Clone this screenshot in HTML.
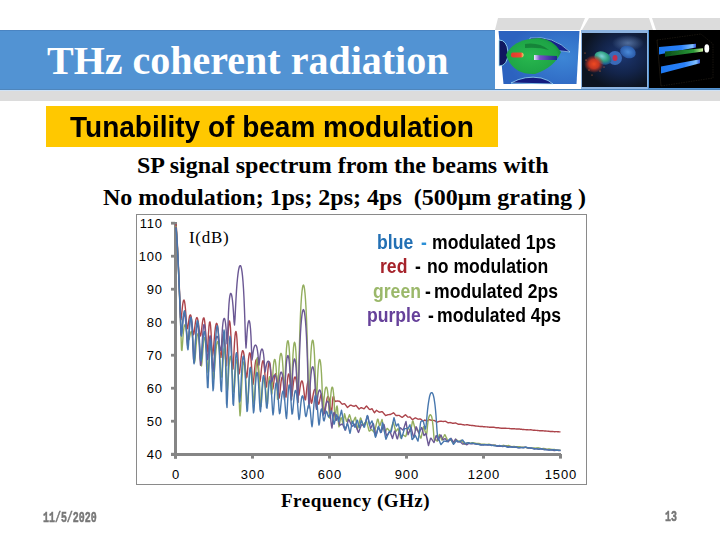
<!DOCTYPE html>
<html><head><meta charset="utf-8">
<style>
html,body{margin:0;padding:0;width:720px;height:540px;overflow:hidden;background:#fff;}
body{position:relative;font-family:"Liberation Sans",sans-serif;}
.a{position:absolute;white-space:pre;line-height:1;}
.lab{font-size:13px;color:#000;letter-spacing:0.8px;}
.leg{font-size:17.6px;font-weight:bold;color:#000;transform:scaleY(1.12);transform-origin:0 0;}
.serif{font-family:"Liberation Serif",serif;}
</style></head><body>
<!-- tabs -->
<svg class="a" style="left:0;top:0" width="720" height="110">
  <polygon points="498,18 585,18 580,30 495,30" fill="#dcdcdc"/>
  <polygon points="589,18 649,18 653,30 582,30" fill="#dcdcdc"/>
  <polygon points="652,18 720,18 720,30 656,30" fill="#dcdcdc"/>
</svg>
<!-- title bar -->
<div class="a" style="left:0;top:30px;width:720px;height:59px;background:#5293d3;border-top:1px solid #4a84c2;box-sizing:border-box"></div>
<div class="a" style="left:0;top:88.5px;width:720px;height:1.5px;background:#4f86bc"></div>
<div class="a" style="left:0;top:90px;width:720px;height:1px;background:#cfe2f6"></div>
<div class="a" style="left:0;top:91px;width:720px;height:10px;background:#dcdcdc"></div>
<div class="a serif" style="left:47px;top:41px;font-size:40px;font-weight:bold;color:#fff;">THz coherent radiation</div>

<!-- images -->
<div class="a" style="left:495px;top:30px;width:86px;height:59px;background:#fff"></div>
<svg class="a" style="left:495px;top:30px" width="86" height="59">
<defs>
<radialGradient id="g1bg" cx="0.8" cy="0.5" r="0.7"><stop offset="0" stop-color="#3d86d6"/><stop offset="1" stop-color="#2c62bf"/></radialGradient>
<radialGradient id="g1gr" cx="0.45" cy="0.5" r="0.6"><stop offset="0" stop-color="#28b84e"/><stop offset="0.8" stop-color="#1ea446"/><stop offset="1" stop-color="#14833a"/></radialGradient>
<linearGradient id="g1pu" x1="0" x2="1"><stop offset="0" stop-color="#e8f0ff"/><stop offset="0.25" stop-color="#7a50c8"/><stop offset="1" stop-color="#1a2a8a"/></linearGradient>
<linearGradient id="g1rd" x1="0" x2="1"><stop offset="0" stop-color="#e23a2c"/><stop offset="0.8" stop-color="#f04a30"/><stop offset="1" stop-color="#f0e070"/></linearGradient>
</defs>
<polygon points="3.5,1 84.5,1 81.5,54 8.5,54" fill="url(#g1bg)"/>
<path d="M4,10 Q12,10 13,22 Q13,36 4,36 Z" fill="#101860" stroke="#9fe8ff" stroke-width="0.8"/>
<path d="M35,8 Q58,5 75,22 Q62,21 52,18 Q44,13 35,11 Z" fill="#16208a" stroke="#b0f0ff" stroke-width="0.6"/>
<path d="M11,25 Q18,9 44,8 Q58,9 66,22 Q60,37 40,44 Q18,45 11,25 Z" fill="url(#g1gr)"/>
<path d="M30,14 Q44,12 54,20 Q44,17 30,18 Z" fill="#137a36" opacity="0.8"/>
<rect x="16" y="22.5" width="12.5" height="5" rx="2" fill="url(#g1rd)"/>
<path d="M39,25 L62,26 L62,30 L39,30 Z" fill="url(#g1pu)"/>
<path d="M16,53 Q30,45 46,48 Q54,50 58,54 Z" fill="#141c80" stroke="#a8ecff" stroke-width="0.7"/>
</svg>
<div class="a" style="left:581px;top:30px;width:67px;height:59px;background:#8db4e0"></div>
<svg class="a" style="left:582px;top:33px" width="65" height="54">
<defs>
<radialGradient id="g2bg" cx="0.62" cy="0.42" r="0.62"><stop offset="0" stop-color="#1c3670"/><stop offset="0.55" stop-color="#13244a"/><stop offset="1" stop-color="#0c1420"/></radialGradient>
<radialGradient id="g2red" cx="0.5" cy="0.5" r="0.5"><stop offset="0" stop-color="#f04a22"/><stop offset="0.5" stop-color="#d83a20" stop-opacity="0.9"/><stop offset="1" stop-color="#c03020" stop-opacity="0"/></radialGradient>
<radialGradient id="g2cy" cx="0.4" cy="0.4" r="0.6"><stop offset="0" stop-color="#7fd0d8"/><stop offset="0.6" stop-color="#2fa080"/><stop offset="1" stop-color="#1e5a90"/></radialGradient>
<radialGradient id="g2bl" cx="0.5" cy="0.5" r="0.5"><stop offset="0" stop-color="#4a8ad8"/><stop offset="1" stop-color="#2a5aa8"/></radialGradient>
<radialGradient id="g2gl" cx="0.5" cy="0.5" r="0.5"><stop offset="0" stop-color="#6a8ab8" stop-opacity="0.7"/><stop offset="1" stop-color="#6a8ab8" stop-opacity="0"/></radialGradient>
</defs>
<rect width="65" height="54" fill="url(#g2bg)"/>
<ellipse cx="46" cy="10" rx="16" ry="8" fill="url(#g2gl)"/>
<ellipse cx="46" cy="19" rx="8" ry="6" fill="url(#g2bl)" transform="rotate(20 46 19)"/>
<ellipse cx="33" cy="25" rx="7" ry="7" fill="#3a6ab8"/>
<ellipse cx="33" cy="25" rx="2.5" ry="3" fill="#c03050"/>
<ellipse cx="21" cy="25" rx="9" ry="6" fill="url(#g2cy)" transform="rotate(25 21 25)"/>
<ellipse cx="12" cy="31" rx="10" ry="9" fill="url(#g2red)"/>
<g fill="#ff8040">
<circle cx="4" cy="27" r="0.6"/><circle cx="7" cy="37" r="0.6"/><circle cx="18" cy="38" r="0.6"/><circle cx="10" cy="42" r="0.5"/><circle cx="22" cy="34" r="0.5"/><circle cx="3" cy="20" r="0.5"/>
</g>
</svg>
<svg class="a" style="left:649px;top:30px" width="71" height="58">
<defs>
<linearGradient id="g3b" x1="0" x2="1"><stop offset="0" stop-color="#1e78f0"/><stop offset="0.6" stop-color="#2a80f8"/><stop offset="0.9" stop-color="#80c0ff"/><stop offset="1" stop-color="#3050d0"/></linearGradient>
<linearGradient id="g3g" x1="0" x2="1"><stop offset="0" stop-color="#0a4a18"/><stop offset="0.75" stop-color="#2a9a38"/><stop offset="1" stop-color="#d0f0a0"/></linearGradient>
<filter id="blur3"><feGaussianBlur stdDeviation="0.6"/></filter>
</defs>
<rect width="71" height="58" fill="#000"/>
<g stroke="#6a5a40" stroke-width="0.5" fill="none" opacity="0.45" stroke-dasharray="1.5 1">
<path d="M8,10 L52,4 L64,14 L64,48 L12,56 Z"/><path d="M8,10 L12,56"/>
</g>
<g filter="url(#blur3)">
<path d="M10,17 L47,13.8 L47,17.6 L10,24.5 Z" fill="url(#g3b)"/>
<path d="M16,21.5 L54,18.2 L54,21.5 L16,26.8 Z" fill="url(#g3g)"/>
<path d="M12,36.5 L51,29.3 L51,33.2 L12,43.5 Z" fill="url(#g3b)"/>
<ellipse cx="57.8" cy="18.4" rx="2.4" ry="4.2" fill="#fff"/>
</g>
</svg>
<!-- yellow subtitle -->
<div class="a" style="left:46px;top:106px;width:452px;height:41px;background:#ffc800"></div>
<div class="a" style="left:70px;top:112px;font-size:28px;font-weight:bold;color:#000;transform:scaleY(1.07);transform-origin:0 0;">Tunability of beam modulation</div>

<div class="a serif" style="left:137px;top:153px;font-size:24px;font-weight:bold;color:#000;">SP signal spectrum from the beams with</div>
<div class="a serif" style="left:103px;top:185px;font-size:24px;font-weight:bold;color:#000;">No modulation; 1ps; 2ps; 4ps  (500μm grating )</div>

<!-- chart frame -->
<div class="a" style="left:136px;top:214px;width:449px;height:269px;border:1px solid #8a8a8a;background:#fff"></div>

<!-- axes -->
<svg class="a" style="left:0;top:0" width="720" height="540">
<g fill="#858585">
<rect x="174" y="222" width="3" height="236.6"/>
<rect x="171" y="453" width="390" height="3"/>
<rect x="171" y="221.8" width="4" height="2.8"/>
<rect x="171" y="254.8" width="4" height="2.8"/>
<rect x="171" y="287.8" width="4" height="2.8"/>
<rect x="171" y="320.8" width="4" height="2.8"/>
<rect x="171" y="353.8" width="4" height="2.8"/>
<rect x="171" y="386.8" width="4" height="2.8"/>
<rect x="171" y="419.8" width="4" height="2.8"/>
<rect x="171" y="452.8" width="4" height="2.8"/>
<rect x="174.0" y="454" width="3" height="4.6"/>
<rect x="251.0" y="454" width="3" height="4.6"/>
<rect x="328.0" y="454" width="3" height="4.6"/>
<rect x="405.0" y="454" width="3" height="4.6"/>
<rect x="482.0" y="454" width="3" height="4.6"/>
<rect x="559.0" y="454" width="3" height="4.6"/>
</g></svg>
<div class="a lab" style="right:557.2px;top:216.7px">110</div>
<div class="a lab" style="right:557.2px;top:249.7px">100</div>
<div class="a lab" style="right:557.2px;top:282.7px">90</div>
<div class="a lab" style="right:557.2px;top:315.7px">80</div>
<div class="a lab" style="right:557.2px;top:348.7px">70</div>
<div class="a lab" style="right:557.2px;top:381.7px">60</div>
<div class="a lab" style="right:557.2px;top:414.7px">50</div>
<div class="a lab" style="right:557.2px;top:447.7px">40</div>
<div class="a lab" style="left:145.5px;width:60px;text-align:center;top:468px;text-indent:0.8px">0</div>
<div class="a lab" style="left:222.5px;width:60px;text-align:center;top:468px;text-indent:0.8px">300</div>
<div class="a lab" style="left:299.5px;width:60px;text-align:center;top:468px;text-indent:0.8px">600</div>
<div class="a lab" style="left:376.5px;width:60px;text-align:center;top:468px;text-indent:0.8px">900</div>
<div class="a lab" style="left:453.5px;width:60px;text-align:center;top:468px;text-indent:0.8px">1200</div>
<div class="a lab" style="left:530.5px;width:60px;text-align:center;top:468px;text-indent:0.8px">1500</div>
<div class="a serif" style="left:189px;top:229px;font-size:17px;letter-spacing:0.7px;color:#000">I(dB)</div>
<div class="a leg" style="left:377px;top:233px;color:#2370b4">blue</div>
<div class="a leg" style="left:421px;top:233px;color:#2b8fd6">-</div>
<div class="a leg" style="left:432px;top:233px">modulated 1ps</div>
<div class="a leg" style="left:380px;top:257px;color:#a6232b">red</div>
<div class="a leg" style="left:415px;top:257px">-</div>
<div class="a leg" style="left:427px;top:257px">no modulation</div>
<div class="a leg" style="left:373px;top:282px;color:#9bb86a">green</div>
<div class="a leg" style="left:425px;top:282px">-</div>
<div class="a leg" style="left:434px;top:282px">modulated 2ps</div>
<div class="a leg" style="left:367px;top:306px;color:#66419a">purple</div>
<div class="a leg" style="left:428px;top:306px">-</div>
<div class="a leg" style="left:437px;top:306px">modulated 4ps</div>
<!--CHART--><svg class="a" style="left:0;top:0" width="720" height="540">
<g fill="none" stroke-width="1.4" stroke-linejoin="round">
<path d="M176.0,224.0 176.5,229.4 177.0,237.2 177.5,246.4 178.0,256.6 178.5,267.6 179.0,279.2 179.5,291.5 180.0,304.3 180.5,317.6 181.0,319.6 181.5,315.8 182.0,310.8 182.5,306.2 183.0,302.6 183.5,300.5 184.0,300.0 184.5,301.3 185.0,304.5 185.5,309.5 186.0,316.2 186.5,323.4 187.0,328.4 187.5,328.7 188.0,326.2 188.5,322.5 189.0,319.1 189.5,316.5 190.0,315.1 190.5,314.9 191.0,316.0 191.5,318.6 192.0,322.7 192.5,327.8 193.0,332.7 193.5,334.9 194.0,333.3 194.5,329.6 195.0,325.5 195.5,321.9 196.0,319.4 196.5,317.9 197.0,317.6 197.5,318.5 198.0,320.6 198.5,323.8 199.0,327.8 199.5,332.1 200.0,335.2 200.5,336.0 201.0,334.2 201.5,330.3 202.0,326.0 202.5,322.2 203.0,319.3 203.5,317.9 204.0,318.0 204.5,320.0 205.0,324.1 205.5,330.3 206.0,338.4 206.5,346.7 207.0,352.3 207.5,350.8 208.0,342.4 208.5,333.1 209.0,326.1 209.5,322.3 210.0,321.9 210.5,325.0 211.0,331.6 211.5,341.1 212.0,351.0 212.5,355.5 213.0,353.4 213.5,348.4 214.0,342.1 214.5,336.0 215.0,330.8 215.5,326.9 216.0,324.3 216.5,323.3 217.0,323.7 217.5,325.7 218.0,329.1 218.5,334.0 219.0,340.1 219.5,346.9 220.0,353.2 220.5,357.2 221.0,357.3 221.5,352.2 222.0,345.1 222.5,339.0 223.0,335.0 223.5,333.7 224.0,335.3 224.5,340.1 225.0,348.0 225.5,357.8 226.0,365.8 226.5,365.7 227.0,357.5 227.5,346.0 228.0,335.3 228.5,327.2 229.0,322.3 229.5,320.9 230.0,322.9 230.5,328.4 231.0,337.3 231.5,348.9 232.0,361.2 232.5,369.4 233.0,369.0 233.5,361.6 234.0,351.6 234.5,342.6 235.0,335.9 235.5,332.2 236.0,331.5 236.5,333.9 237.0,339.5 237.5,348.1 238.0,358.8 238.5,369.1 239.0,374.1 239.5,372.8 240.0,368.8 240.5,363.7 241.0,358.9 241.5,355.0 242.0,352.3 242.5,350.8 243.0,350.7 243.5,351.9 244.0,354.6 244.5,358.6 245.0,363.9 245.5,369.8 246.0,375.1 246.5,377.8 247.0,376.4 247.5,371.1 248.0,364.7 248.5,359.1 249.0,355.1 249.5,353.0 250.0,352.9 250.5,354.9 251.0,359.2 251.5,365.6 252.0,373.5 252.5,380.9 253.0,384.3 253.5,381.8 254.0,376.5 254.5,370.6 255.0,365.6 255.5,361.9 256.0,359.9 256.5,359.4 257.0,360.5 257.5,363.0 258.0,366.9 258.5,371.9 259.0,377.1 259.5,380.8 260.0,381.4 260.5,378.5 261.0,373.4 261.5,368.3 262.0,364.2 262.5,361.6 263.0,360.7 263.5,361.6 264.0,364.4 264.5,369.1 265.0,375.4 265.5,382.3 266.0,387.2 266.5,386.9 267.0,381.7 267.5,375.0 268.0,369.0 268.5,364.7 269.0,362.3 269.5,362.0 270.0,363.9 270.5,367.8 271.0,373.8 271.5,380.9 272.0,387.3 272.5,389.6 273.0,388.3 273.5,384.9 274.0,381.0 274.5,377.5 275.0,375.0 275.5,373.8 276.0,373.8 276.5,375.4 277.0,378.7 277.5,383.5 278.0,389.5 278.5,395.4 279.0,398.4 279.5,396.6 280.0,392.1 280.5,386.9 281.0,382.4 281.5,379.2 282.0,377.2 282.5,376.7 283.0,377.6 283.5,379.8 284.0,383.2 284.5,387.8 285.0,392.6 285.5,396.4 286.0,397.1 286.5,392.8 287.0,386.1 287.5,380.1 288.0,375.9 288.5,374.0 289.0,374.3 289.5,376.7 290.0,381.3 290.5,387.6 291.0,393.9 291.5,396.8 292.0,395.2 292.5,391.1 293.0,386.5 293.5,382.4 294.0,379.3 294.5,377.5 295.0,376.9 295.5,377.5 296.0,379.4 296.5,382.3 297.0,386.3 297.5,390.7 298.0,394.4 298.5,395.8 299.0,394.7 299.5,391.6 300.0,388.0 300.5,384.9 301.0,382.5 301.5,381.2 302.0,380.9 302.5,381.8 303.0,384.0 303.5,387.3 304.0,391.7 304.5,396.3 305.0,399.7 305.5,399.8 306.0,396.3 306.5,391.3 307.0,386.7 307.5,383.3 308.0,381.5 308.5,381.3 309.0,382.8 309.5,386.0 310.0,390.9 310.5,396.8 311.0,401.9 311.5,403.4 312.0,401.8 312.5,398.8 313.0,395.6 313.5,392.8 314.0,390.8 314.5,389.6 315.0,389.3 315.5,389.8 316.0,391.2 316.5,393.5 317.0,396.5 317.5,399.9 318.0,402.9 318.5,404.2 319.0,403.7 319.5,401.5 320.0,398.8 320.5,396.3 321.0,394.7 321.5,394.0 322.0,394.6 322.5,396.7 323.0,400.2 323.5,405.0 324.0,410.2 324.5,413.2 325.0,411.9 325.5,408.6 326.0,404.7 326.5,401.3 327.0,398.7 327.5,397.0 328.0,396.4 328.5,396.8 329.0,398.2 329.5,400.6 330.0,403.8 330.5,407.6 331.0,411.1 331.5,412.8 332.0,408.5 332.5,401.2 333.0,397.1 333.5,396.3 334.0,397.8 334.5,400.3 335.0,401.6 335.5,401.3 336.0,401.2 336.5,401.1 337.0,401.0 337.5,401.0 338.0,401.0 338.5,401.1 339.0,401.2 339.5,401.2 340.0,401.7 340.5,402.3 341.0,402.9 341.5,403.4 342.0,404.0 342.5,404.2 343.0,404.1 343.5,403.9 344.0,403.8 344.5,403.7 345.0,404.1 345.5,404.8 346.0,405.5 346.5,406.2 347.0,406.9 347.5,407.4 348.0,407.0 348.5,406.6 349.0,406.2 349.5,405.8 350.0,405.4 350.5,405.1 351.0,405.2 351.5,405.4 352.0,405.6 352.5,405.8 353.0,406.0 353.5,406.2 354.0,406.4 354.5,406.1 355.0,405.8 355.5,405.5 356.0,405.4 356.5,406.0 357.0,406.6 357.5,407.2 358.0,407.8 358.5,408.5 359.0,409.1 359.5,408.7 360.0,408.3 360.5,408.0 361.0,407.6 361.5,407.7 362.0,408.0 362.5,408.2 363.0,408.4 363.5,408.6 364.0,408.8 364.5,408.2 365.0,407.7 365.5,407.1 366.0,406.6 366.5,406.0 367.0,406.5 367.5,407.1 368.0,407.7 368.5,408.3 369.0,408.9 369.5,409.4 370.0,409.5 370.5,409.3 371.0,409.1 371.5,408.9 372.0,408.7 372.5,409.5 373.0,410.4 373.5,411.2 374.0,412.1 374.5,412.7 375.0,412.1 375.5,411.5 376.0,410.9 376.5,410.3 377.0,410.6 377.5,411.0 378.0,411.3 378.5,411.7 379.0,412.0 379.5,412.2 380.0,412.1 380.5,412.0 381.0,411.9 381.5,411.8 382.0,411.7 382.5,411.9 383.0,412.5 383.5,413.1 384.0,413.7 384.5,414.3 385.0,414.9 385.5,415.5 386.0,415.4 386.5,415.2 387.0,415.1 387.5,414.9 388.0,414.7 388.5,414.6 389.0,414.6 389.5,414.5 390.0,414.5 390.5,414.5 391.0,414.2 391.5,413.9 392.0,413.7 392.5,413.4 393.0,413.1 393.5,412.8 394.0,413.3 394.5,413.8 395.0,414.4 395.5,414.9 396.0,415.5 396.5,415.5 397.0,415.5 397.5,415.5 398.0,415.4 398.5,415.4 399.0,415.4 399.5,415.7 400.0,416.0 400.5,416.3 401.0,416.7 401.5,417.0 402.0,417.3 402.5,417.2 403.0,416.8 403.5,416.4 404.0,415.9 404.5,415.5 405.0,415.1 405.5,414.7 406.0,415.2 406.5,415.7 407.0,416.2 407.5,416.7 408.0,417.1 408.5,417.1 409.0,417.1 409.5,417.0 410.0,417.0 410.5,417.5 411.0,418.1 411.5,418.7 412.0,419.2 412.5,419.7 413.0,419.3 413.5,419.0 414.0,418.7 414.5,418.3 415.0,418.0 415.5,417.9 416.0,418.2 416.5,418.4 417.0,418.7 417.5,418.9 418.0,419.2 418.5,419.1 419.0,419.1 419.5,419.0 420.0,419.0 420.5,419.0 421.0,419.4 421.5,419.8 422.0,420.3 422.5,420.8 423.0,421.2 423.5,420.9 424.0,420.6 424.5,420.2 425.0,420.0 425.5,420.3 426.0,420.6 426.5,421.0 427.0,421.3 427.5,420.9 428.0,420.4 428.5,420.0 429.0,419.6 429.5,419.8 430.0,419.9 430.5,420.0 431.0,420.2 431.5,420.3 432.0,420.4 432.5,420.5 433.0,420.4 433.5,420.4 434.0,420.4 434.5,420.6 435.0,420.9 435.5,421.2 436.0,421.5 436.5,421.9 437.0,422.2 437.5,422.0 438.0,421.9 438.5,421.7 439.0,421.5 439.5,421.4 440.0,421.2 440.5,421.2 441.0,421.3 441.5,421.3 442.0,421.4 442.5,421.4 443.0,421.5 443.5,421.5 444.0,421.4 444.5,421.4 445.0,421.3 445.5,421.3 446.0,421.5 446.5,421.8 447.0,422.2 447.5,422.5 448.0,422.8 448.5,422.7 449.0,422.7 449.5,422.6 450.0,422.5 450.5,422.7 451.0,422.8 451.5,422.9 452.0,423.1 452.5,423.2 453.0,423.3 453.5,423.3 454.0,423.2 454.5,423.1 455.0,423.0 455.5,422.9 456.0,423.1 456.5,423.4 457.0,423.6 457.5,423.8 458.0,424.1 458.5,424.2 459.0,424.3 459.5,424.3 460.0,424.3 460.5,424.3 461.0,424.3 461.5,424.4 462.0,424.5 462.5,424.6 463.0,424.7 463.5,424.8 464.0,424.9 464.5,425.0 465.0,424.9 465.5,424.9 466.0,424.9 466.5,424.8 467.0,424.8 467.5,424.8 468.0,424.9 468.5,425.0 469.0,425.1 469.5,425.2 470.0,425.3 470.5,425.4 471.0,425.4 471.5,425.5 472.0,425.5 472.5,425.5 473.0,425.5 473.5,425.6 474.0,425.7 474.5,425.8 475.0,425.9 475.5,426.0 476.0,426.0 476.5,426.1 477.0,426.1 477.5,426.1 478.0,426.2 478.5,426.3 479.0,426.4 479.5,426.4 480.0,426.5 480.5,426.5 481.0,426.5 481.5,426.5 482.0,426.5 482.5,426.5 483.0,426.6 483.5,426.7 484.0,426.7 484.5,426.8 485.0,426.8 485.5,426.9 486.0,426.9 486.5,426.9 487.0,426.9 487.5,427.0 488.0,427.0 488.5,427.1 489.0,427.1 489.5,427.2 490.0,427.2 490.5,427.2 491.0,427.2 491.5,427.2 492.0,427.2 492.5,427.2 493.0,427.2 493.5,427.3 494.0,427.3 494.5,427.4 495.0,427.5 495.5,427.6 496.0,427.7 496.5,427.7 497.0,427.7 497.5,427.8 498.0,427.8 498.5,427.8 499.0,427.9 499.5,428.0 500.0,428.0 500.5,428.1 501.0,428.2 501.5,428.2 502.0,428.2 502.5,428.2 503.0,428.2 503.5,428.2 504.0,428.1 504.5,428.2 505.0,428.2 505.5,428.3 506.0,428.3 506.5,428.4 507.0,428.4 507.5,428.4 508.0,428.4 508.5,428.4 509.0,428.4 509.5,428.5 510.0,428.6 510.5,428.6 511.0,428.7 511.5,428.8 512.0,428.8 512.5,428.8 513.0,428.8 513.5,428.8 514.0,428.8 514.5,428.8 515.0,428.9 515.5,428.9 516.0,429.0 516.5,429.0 517.0,429.0 517.5,429.0 518.0,429.0 518.5,429.0 519.0,429.0 519.5,429.0 520.0,429.1 520.5,429.2 521.0,429.3 521.5,429.3 522.0,429.4 522.5,429.5 523.0,429.5 523.5,429.5 524.0,429.5 524.5,429.6 525.0,429.6 525.5,429.6 526.0,429.7 526.5,429.7 527.0,429.7 527.5,429.8 528.0,429.8 528.5,429.9 529.0,429.9 529.5,429.9 530.0,429.8 530.5,429.8 531.0,429.8 531.5,429.9 532.0,430.0 532.5,430.1 533.0,430.1 533.5,430.2 534.0,430.3 534.5,430.3 535.0,430.3 535.5,430.4 536.0,430.4 536.5,430.4 537.0,430.4 537.5,430.5 538.0,430.5 538.5,430.6 539.0,430.6 539.5,430.7 540.0,430.7 540.5,430.8 541.0,430.8 541.5,430.8 542.0,430.8 542.5,430.8 543.0,430.8 543.5,430.9 544.0,430.9 544.5,431.0 545.0,431.0 545.5,431.0 546.0,431.0 546.5,431.1 547.0,431.1 547.5,431.1 548.0,431.2 548.5,431.3 549.0,431.3 549.5,431.4 550.0,431.5 550.5,431.5 551.0,431.5 551.5,431.5 552.0,431.5 552.5,431.5 553.0,431.5 553.5,431.6 554.0,431.6 554.5,431.7 555.0,431.7 555.5,431.6 556.0,431.6 556.5,431.6 557.0,431.6 557.5,431.7 558.0,431.8 558.5,431.8 559.0,431.9 559.5,431.9 560.0,431.9 560.5,431.9" stroke="#ac444b"/>
<path d="M176.0,226.0 176.5,231.5 177.0,239.5 177.5,248.9 178.0,259.3 178.5,270.5 179.0,282.4 179.5,294.9 180.0,307.9 180.5,321.5 181.0,335.5 181.5,350.0 182.0,350.4 182.5,344.0 183.0,337.0 183.5,331.2 184.0,327.3 184.5,325.2 185.0,324.7 185.5,325.7 186.0,327.9 186.5,331.0 187.0,334.6 187.5,337.8 188.0,339.2 188.5,339.8 189.0,339.5 189.5,337.7 190.0,335.3 190.5,333.2 191.0,331.7 191.5,331.5 192.0,332.9 192.5,336.4 193.0,342.2 193.5,350.0 194.0,358.1 194.5,362.5 195.0,359.9 195.5,353.8 196.0,347.0 196.5,341.0 197.0,336.6 197.5,334.2 198.0,333.7 198.5,335.2 199.0,338.9 199.5,344.5 200.0,351.8 200.5,359.6 201.0,365.2 201.5,366.0 202.0,362.0 202.5,355.4 203.0,348.8 203.5,343.3 204.0,339.5 204.5,337.6 205.0,337.8 205.5,340.1 206.0,344.6 206.5,351.2 207.0,359.4 207.5,367.6 208.0,372.7 208.5,371.4 209.0,364.5 209.5,356.5 210.0,350.3 210.5,346.9 211.0,346.5 211.5,349.4 212.0,355.7 212.5,364.8 213.0,374.5 213.5,379.0 214.0,376.4 214.5,370.3 215.0,363.0 215.5,355.9 216.0,349.9 216.5,345.4 217.0,342.6 217.5,341.4 218.0,341.9 218.5,344.0 219.0,347.7 219.5,352.9 220.0,359.4 220.5,366.5 221.0,373.0 221.5,377.0 222.0,377.0 222.5,370.8 223.0,362.1 223.5,354.4 224.0,349.4 224.5,347.7 225.0,349.8 225.5,356.0 226.0,366.2 226.5,379.1 227.0,389.6 227.5,390.3 228.0,383.9 228.5,375.2 229.0,367.1 229.5,361.0 230.0,357.4 230.5,356.3 231.0,357.8 231.5,361.9 232.0,368.4 232.5,376.9 233.0,385.7 233.5,391.6 234.0,392.1 234.5,386.9 235.0,378.6 235.5,370.4 236.0,363.9 236.5,360.1 237.0,359.3 237.5,362.1 238.0,368.8 238.5,379.6 239.0,393.6 239.5,407.9 240.0,415.8 240.5,411.7 241.0,401.6 241.5,389.8 242.0,379.1 242.5,370.7 243.0,365.0 243.5,362.1 244.0,361.8 244.5,364.1 245.0,368.8 245.5,375.6 246.0,384.1 246.5,393.2 247.0,400.7 247.5,403.8 248.0,401.1 248.5,393.5 249.0,384.7 249.5,377.2 250.0,372.0 250.5,369.3 251.0,369.1 251.5,371.6 252.0,376.5 252.5,383.8 253.0,392.5 253.5,400.4 254.0,403.6 254.5,399.6 255.0,390.0 255.5,379.1 256.0,369.6 256.5,362.6 257.0,358.6 257.5,357.6 258.0,359.8 258.5,365.1 259.0,373.4 259.5,384.2 260.0,395.9 260.5,404.8 261.0,406.4 261.5,401.8 262.0,394.8 262.5,388.0 263.0,382.9 263.5,379.7 264.0,378.6 264.5,379.6 265.0,382.7 265.5,387.7 266.0,394.3 266.5,401.2 267.0,405.7 267.5,403.3 268.0,393.5 268.5,384.2 269.0,378.5 269.5,376.7 270.0,378.4 270.5,382.9 271.0,389.1 271.5,394.4 272.0,393.0 272.5,380.9 273.0,371.2 273.5,365.0 274.0,361.2 274.5,359.5 275.0,359.7 275.5,361.9 276.0,366.4 276.5,374.0 277.0,385.9 277.5,399.3 278.0,392.9 278.5,378.8 279.0,368.3 279.5,361.2 280.0,356.7 280.5,354.1 281.0,353.3 281.5,354.1 282.0,356.6 282.5,361.1 283.0,367.9 283.5,378.0 284.0,391.4 284.5,397.4 285.0,382.7 285.5,367.1 286.0,356.0 286.5,348.4 287.0,343.6 287.5,341.1 288.0,340.7 288.5,342.4 289.0,346.3 289.5,353.0 290.0,363.1 290.5,377.8 291.0,396.3 291.5,399.2 292.0,380.8 292.5,365.1 293.0,354.5 293.5,347.6 294.0,343.6 294.5,342.2 295.0,343.2 295.5,346.6 296.0,353.0 296.5,363.0 297.0,378.1 297.5,397.7 298.0,402.0 298.5,384.3 299.0,361.9 299.5,342.4 300.0,326.6 300.5,314.1 301.0,304.3 301.5,296.8 302.0,291.3 302.5,287.6 303.0,285.5 303.5,285.0 304.0,286.1 304.5,288.9 305.0,293.3 305.5,299.6 306.0,308.0 306.5,318.9 307.0,332.7 307.5,350.1 308.0,371.3 308.5,393.6 309.0,405.0 309.5,392.7 310.0,374.8 310.5,361.4 311.0,351.9 311.5,345.6 312.0,341.8 312.5,340.1 313.0,340.5 313.5,343.0 314.0,347.9 314.5,355.6 315.0,367.0 315.5,383.0 316.0,402.3 316.5,405.9 317.0,391.6 317.5,379.0 318.0,370.2 318.5,364.5 319.0,361.0 319.5,359.5 320.0,359.9 320.5,362.2 321.0,366.7 321.5,373.9 322.0,384.9 322.5,400.3 323.0,412.0 323.5,406.7 324.0,399.3 324.5,394.0 325.0,390.4 325.5,388.2 326.0,387.1 326.5,387.1 327.0,388.3 327.5,390.7 328.0,394.9 328.5,401.3 329.0,410.6 329.5,418.0 330.0,409.2 330.5,399.2 331.0,392.8 331.5,389.0 332.0,387.2 332.5,387.2 333.0,389.0 333.5,393.0 334.0,399.7 334.5,410.4 335.0,420.0 335.5,417.3 336.0,411.5 336.5,407.2 337.0,405.9 337.5,408.3 338.0,414.7 338.5,423.4 339.0,426.9 339.5,424.6 340.0,421.4 340.5,419.0 341.0,417.8 341.5,417.9 342.0,419.3 342.5,422.1 343.0,423.5 343.5,422.5 344.0,416.8 344.5,413.6 345.0,415.5 345.5,417.5 346.0,419.4 346.5,421.4 347.0,421.1 347.5,419.8 348.0,418.5 348.5,417.3 349.0,416.0 349.5,414.7 350.0,416.0 350.5,417.8 351.0,419.6 351.5,421.3 352.0,423.1 352.5,423.2 353.0,422.1 353.5,421.1 354.0,420.0 354.5,418.9 355.0,417.9 355.5,417.2 356.0,420.3 356.5,423.3 357.0,426.4 357.5,429.3 358.0,427.4 358.5,425.5 359.0,423.6 359.5,421.7 360.0,419.8 360.5,417.9 361.0,418.7 361.5,420.4 362.0,422.0 362.5,423.7 363.0,425.3 363.5,424.7 364.0,424.0 364.5,423.4 365.0,422.7 365.5,422.0 366.0,421.4 366.5,421.3 367.0,423.2 367.5,425.1 368.0,426.9 368.5,428.8 369.0,430.7 369.5,431.1 370.0,430.7 370.5,430.3 371.0,429.9 371.5,429.5 372.0,429.9 372.5,430.5 373.0,431.0 373.5,431.6 374.0,432.1 374.5,432.1 375.0,429.9 375.5,427.8 376.0,425.6 376.5,423.4 377.0,421.3 377.5,419.1 378.0,419.1 378.5,421.3 379.0,423.5 379.5,425.7 380.0,425.6 380.5,424.0 381.0,422.5 381.5,421.0 382.0,419.5 382.5,421.9 383.0,424.4 383.5,426.8 384.0,429.2 384.5,431.7 385.0,432.6 385.5,431.6 386.0,430.5 386.5,429.5 387.0,428.5 387.5,428.5 388.0,429.1 388.5,429.7 389.0,430.3 389.5,430.9 390.0,431.5 390.5,431.6 391.0,429.7 391.5,427.8 392.0,426.0 392.5,424.1 393.0,422.2 393.5,422.9 394.0,424.8 394.5,426.6 395.0,428.5 395.5,430.4 396.0,431.4 396.5,430.7 397.0,430.0 397.5,429.3 398.0,428.6 398.5,429.5 399.0,431.5 399.5,433.6 400.0,435.7 400.5,437.8 401.0,437.7 401.5,436.8 402.0,435.9 402.5,435.0 403.0,434.9 403.5,435.2 404.0,435.5 404.5,435.8 405.0,436.1 405.5,436.5 406.0,435.9 406.5,433.6 407.0,431.3 407.5,429.0 408.0,427.6 408.5,428.3 409.0,429.0 409.5,429.8 410.0,430.5 410.5,431.3 411.0,429.6 411.5,426.7 412.0,423.9 412.5,421.1 413.0,421.0 413.5,422.9 414.0,424.8 414.5,426.7 415.0,428.6 415.5,430.0 416.0,430.0 416.5,429.9 417.0,429.8 417.5,429.7 418.0,430.6 418.5,432.1 419.0,433.6 419.5,435.1 420.0,436.6 420.5,438.1 421.0,438.1 421.5,435.8 422.0,433.6 422.5,431.3 423.0,429.1 423.5,426.8 424.0,427.8 424.5,429.4 425.0,431.0 425.5,432.5 426.0,434.1 426.5,435.5 427.0,431.7 427.5,425.7 428.0,421.4 428.5,418.6 429.0,416.7 429.5,415.5 430.0,414.9 430.5,414.8 431.0,415.2 431.5,416.2 432.0,418.2 432.5,421.4 433.0,425.8 433.5,431.4 434.0,438.1 434.5,440.8 435.0,440.1 435.5,439.4 436.0,439.8 436.5,440.4 437.0,441.0 437.5,441.1 438.0,439.3 438.5,437.4 439.0,435.5 439.5,434.5 440.0,435.7 440.5,436.9 441.0,438.1 441.5,439.3 442.0,440.2 442.5,439.2 443.0,438.1 443.5,437.0 444.0,436.0 444.5,434.9 445.0,434.7 445.5,435.8 446.0,436.9 446.5,437.9 447.0,439.0 447.5,440.1 448.0,440.9 448.5,440.8 449.0,440.6 449.5,440.4 450.0,440.3 450.5,440.1 451.0,439.9 451.5,440.7 452.0,441.5 452.5,442.2 453.0,443.0 453.5,443.5 454.0,442.7 454.5,441.8 455.0,441.0 455.5,440.2 456.0,439.4 456.5,439.7 457.0,440.3 457.5,440.9 458.0,441.4 458.5,441.4 459.0,441.2 459.5,441.0 460.0,440.8 460.5,440.6 461.0,440.3 461.5,440.6 462.0,441.2 462.5,441.9 463.0,442.5 463.5,443.1 464.0,443.7 464.5,444.3 465.0,444.0 465.5,443.7 466.0,443.4 466.5,443.1 467.0,442.8 467.5,442.7 468.0,442.8 468.5,442.9 469.0,442.9 469.5,443.0 470.0,443.1 470.5,443.1 471.0,443.0 471.5,442.8 472.0,442.7 472.5,442.6 473.0,442.6 473.5,442.8 474.0,442.9 474.5,443.0 475.0,443.2 475.5,443.3 476.0,443.4 476.5,443.4 477.0,443.4 477.5,443.4 478.0,443.4 478.5,443.4 479.0,443.5 479.5,443.7 480.0,443.8 480.5,444.0 481.0,444.1 481.5,444.3 482.0,444.3 482.5,444.3 483.0,444.2 483.5,444.2 484.0,444.2 484.5,444.2 485.0,444.3 485.5,444.4 486.0,444.5 486.5,444.5 487.0,444.5 487.5,444.4 488.0,444.4 488.5,444.3 489.0,444.3 489.5,444.3 490.0,444.5 490.5,444.7 491.0,444.9 491.5,445.1 492.0,445.2 492.5,445.2 493.0,445.1 493.5,445.0 494.0,444.9 494.5,445.0 495.0,445.2 495.5,445.4 496.0,445.6 496.5,445.8 497.0,445.7 497.5,445.7 498.0,445.7 498.5,445.6 499.0,445.7 499.5,445.7 500.0,445.8 500.5,445.9 501.0,445.9 501.5,445.9 502.0,445.8 502.5,445.6 503.0,445.4 503.5,445.3 504.0,445.5 504.5,445.7 505.0,445.9 505.5,446.0 506.0,445.9 506.5,445.8 507.0,445.7 507.5,445.7 508.0,445.6 508.5,445.5 509.0,445.7 509.5,445.9 510.0,446.1 510.5,446.3 511.0,446.4 511.5,446.6 512.0,446.6 512.5,446.6 513.0,446.5 513.5,446.5 514.0,446.4 514.5,446.5 515.0,446.6 515.5,446.7 516.0,446.8 516.5,446.8 517.0,446.8 517.5,446.8 518.0,446.8 518.5,446.8 519.0,446.7 519.5,446.8 520.0,446.9 520.5,447.0 521.0,447.2 521.5,447.3 522.0,447.3 522.5,447.3 523.0,447.3 523.5,447.2 524.0,447.2 524.5,447.1 525.0,447.2 525.5,447.4 526.0,447.6 526.5,447.8 527.0,447.8 527.5,447.8 528.0,447.8 528.5,447.8 529.0,447.8 529.5,447.8 530.0,447.9 530.5,448.1 531.0,448.2 531.5,448.2 532.0,448.2 532.5,448.1 533.0,448.0 533.5,448.0 534.0,448.0 534.5,448.0 535.0,448.1 535.5,448.1 536.0,448.0 536.5,448.0 537.0,447.9 537.5,447.9 538.0,447.8 538.5,447.9 539.0,448.0 539.5,448.1 540.0,448.3 540.5,448.4 541.0,448.6 541.5,448.7 542.0,448.6 542.5,448.6 543.0,448.5 543.5,448.5 544.0,448.5 544.5,448.7 545.0,448.8 545.5,449.0 546.0,449.2 546.5,449.2 547.0,449.2 547.5,449.1 548.0,449.0 548.5,448.9 549.0,448.9 549.5,449.0 550.0,449.1 550.5,449.2 551.0,449.3 551.5,449.4 552.0,449.4 552.5,449.4 553.0,449.4 553.5,449.4 554.0,449.4 554.5,449.4 555.0,449.6 555.5,449.7 556.0,449.9 556.5,450.0 557.0,450.1 557.5,450.3 558.0,450.3 558.5,450.2 559.0,450.2 559.5,450.2 560.0,450.1 560.5,450.2" stroke="#93ae5e"/>
<path d="M176.0,227.0 176.5,232.4 177.0,240.3 177.5,249.6 178.0,259.8 178.5,270.9 179.0,282.6 179.5,294.9 180.0,307.8 180.5,321.2 181.0,335.0 181.5,333.8 182.0,329.6 182.5,324.4 183.0,319.8 183.5,316.4 184.0,314.5 184.5,314.4 185.0,316.1 185.5,319.9 186.0,325.7 186.5,333.2 187.0,340.8 187.5,345.4 188.0,344.7 188.5,339.2 189.0,331.9 189.5,325.3 190.0,320.4 190.5,317.8 191.0,318.0 191.5,321.1 192.0,327.5 192.5,337.0 193.0,348.7 193.5,359.1 194.0,362.5 194.5,357.6 195.0,349.0 195.5,339.9 196.0,332.3 196.5,327.1 197.0,324.3 197.5,324.2 198.0,326.8 198.5,332.0 199.0,339.8 199.5,349.4 200.0,359.1 200.5,365.3 201.0,364.0 201.5,356.4 202.0,346.6 202.5,337.6 203.0,330.7 203.5,326.3 204.0,324.5 204.5,325.2 205.0,328.3 205.5,333.6 206.0,340.9 206.5,349.2 207.0,356.5 207.5,359.6 208.0,357.7 208.5,351.2 209.0,344.1 209.5,338.7 210.0,335.9 210.5,336.2 211.0,339.9 211.5,347.3 212.0,357.8 212.5,368.2 213.0,371.4 213.5,367.0 214.0,360.3 214.5,353.2 215.0,347.0 215.5,342.2 216.0,338.8 216.5,336.9 217.0,336.2 217.5,336.7 218.0,338.0 218.5,340.1 219.0,342.8 219.5,345.6 220.0,348.2 220.5,350.1 221.0,350.4 221.5,346.1 222.0,335.2 222.5,327.4 223.0,322.5 223.5,319.7 224.0,318.4 224.5,318.5 225.0,320.0 225.5,323.0 226.0,327.7 226.5,334.9 227.0,343.7 227.5,339.9 228.0,324.5 228.5,312.2 229.0,303.8 229.5,298.4 230.0,295.1 230.5,293.5 231.0,293.4 231.5,294.6 232.0,297.0 232.5,300.7 233.0,305.9 233.5,313.0 234.0,321.6 234.5,325.0 235.0,318.8 235.5,308.5 236.0,298.7 236.5,290.4 237.0,283.6 237.5,278.2 238.0,273.8 238.5,270.4 239.0,268.0 239.5,266.3 240.0,265.6 240.5,265.7 241.0,266.6 241.5,268.6 242.0,271.6 242.5,275.9 243.0,281.5 243.5,288.8 244.0,298.2 244.5,310.1 245.0,324.5 245.5,339.7 246.0,348.0 246.5,341.8 247.0,333.4 247.5,327.5 248.0,323.6 248.5,321.3 249.0,320.6 249.5,321.4 250.0,324.0 250.5,328.8 251.0,336.8 251.5,349.2 252.0,360.0 252.5,357.2 253.0,353.0 253.5,349.9 254.0,347.7 254.5,346.2 255.0,345.3 255.5,345.0 256.0,345.3 256.5,346.3 257.0,348.0 257.5,350.8 258.0,354.9 258.5,360.6 259.0,365.0 259.5,361.4 260.0,356.4 260.5,353.0 261.0,350.7 261.5,349.4 262.0,349.0 262.5,349.5 263.0,351.0 263.5,353.8 264.0,358.5 264.5,365.7 265.0,372.0 265.5,370.1 266.0,367.0 266.5,364.5 267.0,362.8 267.5,361.7 268.0,361.1 268.5,361.1 269.0,361.8 269.5,363.3 270.0,366.0 270.5,370.2 271.0,376.6 271.5,382.0 272.0,381.2 272.5,379.3 273.0,377.7 273.5,376.4 274.0,375.5 274.5,375.1 275.0,375.1 275.5,375.7 276.0,377.1 276.5,379.5 277.0,383.5 277.5,389.7 278.0,395.0 278.5,390.1 279.0,383.3 279.5,378.4 280.0,375.2 280.5,373.1 281.0,372.1 281.5,372.1 282.0,373.2 282.5,375.4 283.0,379.1 283.5,384.9 284.0,393.3 284.5,400.0 285.0,390.6 285.5,377.8 286.0,368.5 286.5,362.2 287.0,358.2 287.5,356.0 288.0,355.5 288.5,356.7 289.0,359.6 289.5,364.6 290.0,372.2 290.5,383.5 291.0,397.6 291.5,400.0 292.0,386.8 292.5,375.5 293.0,367.8 293.5,362.8 294.0,359.9 294.5,358.9 295.0,359.6 295.5,362.1 296.0,366.7 296.5,374.1 297.0,385.1 297.5,399.4 298.0,402.5 298.5,388.5 299.0,370.8 299.5,355.3 300.0,342.8 300.5,332.8 301.0,325.0 301.5,319.1 302.0,314.6 302.5,311.7 303.0,310.0 303.5,309.6 304.0,310.5 304.5,312.7 305.0,316.3 305.5,321.4 306.0,328.3 306.5,337.2 307.0,348.5 307.5,362.8 308.0,380.2 308.5,398.5 309.0,408.0 309.5,400.2 310.0,388.8 310.5,380.3 311.0,374.3 311.5,370.3 312.0,367.8 312.5,366.8 313.0,367.0 313.5,368.6 314.0,371.7 314.5,376.7 315.0,383.9 315.5,394.1 316.0,406.4 316.5,409.2 317.0,403.5 317.5,398.3 318.0,394.6 318.5,392.2 319.0,390.7 319.5,390.0 320.0,390.2 320.5,391.3 321.0,393.3 321.5,396.7 322.0,401.9 322.5,409.3 323.0,415.0 323.5,415.0 324.0,413.6 324.5,411.3 325.0,408.8 325.5,406.3 326.0,404.2 326.5,402.6 327.0,401.5 327.5,401.2 328.0,401.6 328.5,402.8 329.0,405.0 329.5,408.1 330.0,412.2 330.5,417.0 331.0,421.9 331.5,426.0 332.0,428.0 332.5,424.0 333.0,418.2 333.5,414.1 334.0,412.4 334.5,412.8 335.0,414.7 335.5,417.8 336.0,420.4 336.5,420.1 337.0,418.3 337.5,417.0 338.0,416.7 338.5,418.9 339.0,422.0 339.5,424.6 340.0,425.2 340.5,424.9 341.0,424.6 341.5,424.3 342.0,424.0 342.5,424.0 343.0,425.1 343.5,426.3 344.0,427.5 344.5,428.6 345.0,429.8 345.5,430.1 346.0,428.2 346.5,426.4 347.0,424.6 347.5,422.8 348.0,421.0 348.5,419.2 349.0,419.7 349.5,420.9 350.0,422.0 350.5,423.2 351.0,424.3 351.5,425.5 352.0,426.4 352.5,426.0 353.0,425.6 353.5,425.3 354.0,424.9 354.5,424.5 355.0,424.1 355.5,425.0 356.0,426.3 356.5,427.6 357.0,428.9 357.5,430.3 358.0,431.6 358.5,432.5 359.0,431.2 359.5,429.8 360.0,428.5 360.5,427.2 361.0,425.9 361.5,424.8 362.0,424.9 362.5,424.9 363.0,425.0 363.5,425.1 364.0,425.2 364.5,425.3 365.0,424.2 365.5,422.5 366.0,420.9 366.5,419.2 367.0,417.6 367.5,416.0 368.0,416.9 368.5,419.3 369.0,421.7 369.5,424.0 370.0,426.4 370.5,428.7 371.0,427.8 371.5,426.7 372.0,425.6 372.5,424.5 373.0,423.4 373.5,424.2 374.0,426.6 374.5,428.9 375.0,431.2 375.5,433.6 376.0,435.9 376.5,434.1 377.0,432.0 377.5,429.8 378.0,427.7 378.5,427.8 379.0,428.7 379.5,429.6 380.0,430.5 380.5,431.4 381.0,432.3 381.5,431.8 382.0,430.1 382.5,428.4 383.0,426.6 383.5,424.9 384.0,424.4 384.5,426.6 385.0,428.9 385.5,431.2 386.0,433.5 386.5,435.7 387.0,435.5 387.5,434.7 388.0,434.0 388.5,433.3 389.0,432.5 389.5,431.8 390.0,431.4 390.5,432.9 391.0,434.3 391.5,435.7 392.0,437.1 392.5,438.5 393.0,436.6 393.5,434.8 394.0,433.0 394.5,431.1 395.0,431.0 395.5,432.9 396.0,434.8 396.5,436.7 397.0,438.7 397.5,438.8 398.0,436.7 398.5,434.5 399.0,432.3 399.5,430.2 400.0,428.0 400.5,427.8 401.0,428.3 401.5,428.7 402.0,429.2 402.5,429.7 403.0,430.1 403.5,429.3 404.0,427.7 404.5,426.1 405.0,424.5 405.5,422.9 406.0,421.5 406.5,424.8 407.0,428.1 407.5,431.4 408.0,434.7 408.5,433.8 409.0,432.6 409.5,431.3 410.0,430.0 410.5,428.8 411.0,427.5 411.5,429.3 412.0,431.2 412.5,433.1 413.0,435.1 413.5,437.0 414.0,437.4 414.5,434.8 415.0,432.1 415.5,429.4 416.0,426.8 416.5,427.3 417.0,428.6 417.5,429.9 418.0,431.2 418.5,432.5 419.0,433.3 419.5,432.1 420.0,431.0 420.5,429.9 421.0,428.8 421.5,427.6 422.0,428.0 422.5,430.1 423.0,432.2 423.5,434.3 424.0,435.6 424.5,435.0 425.0,434.4 425.5,433.8 426.0,433.7 426.5,436.1 427.0,438.5 427.5,440.9 428.0,443.3 428.5,445.6 429.0,443.8 429.5,442.0 430.0,440.2 430.5,438.4 431.0,438.2 431.5,438.9 432.0,439.6 432.5,440.3 433.0,441.1 433.5,441.8 434.0,442.5 434.5,440.9 435.0,439.2 435.5,437.5 436.0,435.8 436.5,435.5 437.0,437.1 437.5,438.7 438.0,440.3 438.5,439.7 439.0,438.6 439.5,437.5 440.0,436.4 440.5,435.4 441.0,435.1 441.5,436.3 442.0,437.5 442.5,438.7 443.0,439.9 443.5,439.7 444.0,439.3 444.5,438.8 445.0,438.6 445.5,439.1 446.0,439.7 446.5,440.2 447.0,440.8 447.5,441.3 448.0,441.9 448.5,441.4 449.0,440.8 449.5,440.2 450.0,439.5 450.5,438.9 451.0,438.3 451.5,439.1 452.0,439.9 452.5,440.8 453.0,441.7 453.5,442.1 454.0,441.3 454.5,440.6 455.0,439.8 455.5,439.1 456.0,439.7 456.5,440.5 457.0,441.2 457.5,441.9 458.0,442.0 458.5,441.9 459.0,441.8 459.5,441.6 460.0,441.5 460.5,441.8 461.0,442.4 461.5,442.9 462.0,443.5 462.5,444.0 463.0,444.1 463.5,443.8 464.0,443.5 464.5,443.3 465.0,443.5 465.5,443.9 466.0,444.4 466.5,444.8 467.0,444.6 467.5,444.3 468.0,444.0 468.5,443.7 469.0,443.5 469.5,443.5 470.0,443.5 470.5,443.6 471.0,443.7 471.5,443.7 472.0,443.7 472.5,443.7 473.0,443.6 473.5,443.6 474.0,443.6 474.5,443.7 475.0,443.9 475.5,444.0 476.0,444.1 476.5,444.2 477.0,444.3 477.5,444.4 478.0,444.4 478.5,444.4 479.0,444.4 479.5,444.4 480.0,444.5 480.5,444.5 481.0,444.6 481.5,444.7 482.0,444.8 482.5,444.9 483.0,445.0 483.5,445.0 484.0,444.9 484.5,444.9 485.0,444.8 485.5,444.8 486.0,444.7 486.5,444.8 487.0,444.9 487.5,445.0 488.0,445.1 488.5,445.0 489.0,444.9 489.5,444.8 490.0,444.7 490.5,444.8 491.0,444.9 491.5,445.1 492.0,445.2 492.5,445.3 493.0,445.4 493.5,445.5 494.0,445.5 494.5,445.4 495.0,445.4 495.5,445.3 496.0,445.5 496.5,445.8 497.0,446.0 497.5,446.3 498.0,446.3 498.5,446.3 499.0,446.2 499.5,446.2 500.0,446.2 500.5,446.2 501.0,446.3 501.5,446.3 502.0,446.4 502.5,446.5 503.0,446.5 503.5,446.4 504.0,446.4 504.5,446.3 505.0,446.2 505.5,446.2 506.0,446.3 506.5,446.4 507.0,446.6 507.5,446.7 508.0,446.8 508.5,446.9 509.0,446.8 509.5,446.8 510.0,446.8 510.5,446.7 511.0,446.7 511.5,446.7 512.0,446.8 512.5,447.0 513.0,447.1 513.5,447.2 514.0,447.2 514.5,447.2 515.0,447.2 515.5,447.2 516.0,447.2 516.5,447.2 517.0,447.3 517.5,447.4 518.0,447.5 518.5,447.6 519.0,447.7 519.5,447.8 520.0,447.7 520.5,447.6 521.0,447.5 521.5,447.4 522.0,447.4 522.5,447.4 523.0,447.5 523.5,447.5 524.0,447.6 524.5,447.5 525.0,447.4 525.5,447.3 526.0,447.2 526.5,447.4 527.0,447.6 527.5,447.8 528.0,448.0 528.5,448.1 529.0,448.1 529.5,448.1 530.0,448.1 530.5,448.2 531.0,448.2 531.5,448.2 532.0,448.3 532.5,448.4 533.0,448.5 533.5,448.6 534.0,448.7 534.5,448.7 535.0,448.7 535.5,448.7 536.0,448.7 536.5,448.7 537.0,448.9 537.5,449.0 538.0,449.2 538.5,449.4 539.0,449.2 539.5,449.1 540.0,448.9 540.5,448.8 541.0,448.9 541.5,449.0 542.0,449.2 542.5,449.3 543.0,449.4 543.5,449.5 544.0,449.5 544.5,449.5 545.0,449.4 545.5,449.3 546.0,449.4 546.5,449.5 547.0,449.6 547.5,449.8 548.0,449.9 548.5,450.0 549.0,450.0 549.5,450.0 550.0,449.9 550.5,449.9 551.0,449.9 551.5,449.9 552.0,450.0 552.5,450.1 553.0,450.2 553.5,450.3 554.0,450.5 554.5,450.5 555.0,450.5 555.5,450.4 556.0,450.3 556.5,450.2 557.0,450.3 557.5,450.3 558.0,450.4 558.5,450.5 559.0,450.5 559.5,450.6 560.0,450.5 560.5,450.4" stroke="#6b5894"/>
<path d="M176.0,228.0 176.5,233.2 177.0,240.7 177.5,249.5 178.0,259.3 178.5,269.9 179.0,281.1 179.5,292.8 180.0,305.1 180.5,317.9 181.0,331.1 181.5,336.1 182.0,332.1 182.5,325.9 183.0,319.8 183.5,314.9 184.0,311.8 184.5,310.7 185.0,311.9 185.5,315.5 186.0,321.8 186.5,330.4 187.0,340.2 187.5,348.0 188.0,349.7 188.5,344.9 189.0,336.8 189.5,328.7 190.0,322.3 190.5,318.4 191.0,317.3 191.5,319.4 192.0,324.7 192.5,333.5 193.0,345.0 193.5,356.8 194.0,363.8 194.5,360.9 195.0,352.1 195.5,341.7 196.0,332.6 196.5,325.8 197.0,321.8 197.5,320.6 198.0,322.1 198.5,326.3 199.0,333.1 199.5,341.8 200.0,351.4 200.5,358.8 201.0,361.0 201.5,359.1 202.0,353.3 202.5,346.3 203.0,339.7 203.5,334.7 204.0,331.8 204.5,331.5 205.0,334.1 205.5,340.2 206.0,349.8 206.5,362.6 207.0,376.6 207.5,387.4 208.0,387.7 208.5,375.6 209.0,360.4 209.5,348.3 210.0,341.2 210.5,339.5 211.0,343.3 211.5,352.4 212.0,366.3 212.5,381.7 213.0,390.7 213.5,388.0 214.0,378.6 214.5,366.0 215.0,353.4 215.5,342.5 216.0,334.0 216.5,328.4 217.0,325.8 217.5,326.0 218.0,329.2 218.5,335.4 219.0,344.3 219.5,355.7 220.0,368.7 220.5,381.3 221.0,390.1 221.5,391.6 222.0,380.3 222.5,362.2 223.0,345.7 223.5,334.6 224.0,330.0 224.5,332.4 225.0,342.4 225.5,359.8 226.0,382.6 226.5,403.1 227.0,407.5 227.5,396.1 228.0,378.4 228.5,361.3 229.0,348.0 229.5,339.6 230.0,336.3 230.5,338.3 231.0,345.3 231.5,357.3 232.0,373.3 232.5,390.8 233.0,403.9 233.5,405.4 234.0,396.1 234.5,382.4 235.0,369.6 235.5,360.0 236.0,354.3 236.5,352.6 237.0,354.9 237.5,360.9 238.0,370.6 238.5,382.8 239.0,395.0 239.5,402.0 240.0,400.8 240.5,393.8 241.0,384.1 241.5,374.4 242.0,366.3 242.5,360.3 243.0,356.8 243.5,356.0 244.0,358.0 244.5,362.9 245.0,370.6 245.5,380.9 246.0,393.0 246.5,404.5 247.0,411.5 247.5,410.2 248.0,401.3 248.5,389.9 249.0,379.8 249.5,372.4 250.0,368.2 250.5,367.3 251.0,369.8 251.5,375.7 252.0,384.7 252.5,395.9 253.0,406.9 253.5,412.9 254.0,410.5 254.5,402.5 255.0,392.8 255.5,384.1 256.0,377.6 256.5,373.6 257.0,372.3 257.5,373.5 258.0,377.4 258.5,383.8 259.0,392.3 259.5,401.7 260.0,409.4 260.5,411.7 261.0,406.9 261.5,398.0 262.0,389.0 262.5,382.0 263.0,377.4 263.5,375.5 264.0,376.3 264.5,379.6 265.0,385.2 265.5,392.9 266.0,401.3 266.5,407.5 267.0,408.2 267.5,403.7 268.0,396.5 268.5,389.5 269.0,384.2 269.5,381.1 270.0,380.3 270.5,382.0 271.0,386.2 271.5,393.1 272.0,401.8 272.5,410.5 273.0,414.9 273.5,412.2 274.0,405.2 274.5,397.2 275.0,390.5 275.5,385.7 276.0,383.1 276.5,382.8 277.0,384.7 277.5,388.8 278.0,394.9 278.5,402.3 279.0,409.6 279.5,413.7 280.0,412.8 280.5,408.8 281.0,403.4 281.5,398.4 282.0,394.5 282.5,392.1 283.0,391.1 283.5,391.8 284.0,394.2 284.5,398.3 285.0,403.9 285.5,410.4 286.0,416.2 286.5,418.6 287.0,413.5 287.5,404.0 288.0,395.0 288.5,388.5 289.0,385.1 289.5,384.9 290.0,387.7 290.5,393.2 291.0,401.0 291.5,409.3 292.0,414.1 292.5,413.3 293.0,409.1 293.5,403.6 294.0,398.4 294.5,394.2 295.0,391.5 295.5,390.4 296.0,390.9 296.5,393.2 297.0,397.2 297.5,402.9 298.0,409.7 298.5,416.1 299.0,419.6 299.5,418.0 300.0,413.1 300.5,407.3 301.0,402.3 301.5,398.6 302.0,396.5 302.5,395.8 303.0,396.7 303.5,399.0 304.0,402.6 304.5,407.2 305.0,412.1 305.5,415.7 306.0,416.6 306.5,415.3 307.0,412.4 307.5,409.4 308.0,406.8 308.5,405.2 309.0,404.8 309.5,405.8 310.0,408.4 310.5,412.6 311.0,418.2 311.5,423.9 312.0,426.7 312.5,423.8 313.0,417.5 313.5,410.3 314.0,404.0 314.5,399.2 315.0,396.3 315.5,395.2 316.0,396.0 316.5,398.6 317.0,402.9 317.5,408.8 318.0,415.6 318.5,421.8 319.0,425.1 319.5,423.1 320.0,417.7 320.5,412.8 321.0,409.8 321.5,408.9 322.0,409.9 322.5,412.6 323.0,416.6 323.5,420.2 324.0,420.9 324.5,419.5 325.0,417.1 325.5,414.4 326.0,411.2 326.5,411.4 327.0,412.3 327.5,414.0 328.0,415.8 328.5,417.1 329.0,416.1 329.5,415.1 330.0,414.0 330.5,413.0 331.0,412.0 331.5,410.9 332.0,413.4 332.5,416.1 333.0,418.8 333.5,421.5 334.0,424.2 334.5,422.9 335.0,420.9 335.5,418.8 336.0,416.8 336.5,414.7 337.0,415.3 337.5,417.4 338.0,419.4 338.5,421.4 339.0,420.1 339.5,418.1 340.0,416.1 340.5,414.2 341.0,412.2 341.5,410.2 342.0,412.8 342.5,415.8 343.0,418.9 343.5,421.9 344.0,425.0 344.5,428.0 345.0,429.7 345.5,428.5 346.0,427.2 346.5,426.0 347.0,424.7 347.5,423.5 348.0,424.8 348.5,427.0 349.0,429.1 349.5,431.3 350.0,433.4 350.5,431.4 351.0,428.4 351.5,425.5 352.0,422.5 352.5,421.1 353.0,422.5 353.5,424.0 354.0,425.4 354.5,426.8 355.0,427.2 355.5,425.5 356.0,423.7 356.5,422.0 357.0,420.2 357.5,420.4 358.0,422.7 358.5,424.9 359.0,427.1 359.5,427.5 360.0,425.3 360.5,423.1 361.0,420.9 361.5,420.7 362.0,422.0 362.5,423.4 363.0,424.7 363.5,426.0 364.0,427.3 364.5,427.0 365.0,424.8 365.5,422.7 366.0,420.5 366.5,418.4 367.0,416.2 367.5,415.5 368.0,417.9 368.5,420.3 369.0,422.7 369.5,425.0 370.0,424.2 370.5,423.4 371.0,422.5 371.5,421.7 372.0,420.9 372.5,422.7 373.0,425.3 373.5,428.0 374.0,430.6 374.5,433.3 375.0,435.9 375.5,437.4 376.0,435.6 376.5,433.7 377.0,431.8 377.5,430.0 378.0,428.1 378.5,426.2 379.0,427.5 379.5,429.2 380.0,430.9 380.5,432.6 381.0,432.4 381.5,429.2 382.0,425.9 382.5,422.7 383.0,424.0 383.5,426.7 384.0,429.4 384.5,432.1 385.0,434.8 385.5,437.5 386.0,439.2 386.5,438.0 387.0,436.8 387.5,435.6 388.0,434.4 388.5,433.2 389.0,431.9 389.5,431.8 390.0,431.9 390.5,431.9 391.0,432.0 391.5,430.3 392.0,427.7 392.5,425.1 393.0,422.5 393.5,419.9 394.0,417.6 394.5,419.5 395.0,421.5 395.5,423.4 396.0,425.3 396.5,426.1 397.0,425.4 397.5,424.7 398.0,424.0 398.5,424.2 399.0,426.6 399.5,429.1 400.0,431.5 400.5,434.0 401.0,436.4 401.5,438.5 402.0,436.9 402.5,435.2 403.0,433.6 403.5,431.9 404.0,430.3 404.5,428.7 405.0,428.6 405.5,428.6 406.0,428.6 406.5,428.6 407.0,428.5 407.5,428.5 408.0,428.2 408.5,427.3 409.0,426.5 409.5,425.6 410.0,424.8 410.5,428.0 411.0,431.8 411.5,435.6 412.0,439.4 412.5,439.5 413.0,438.6 413.5,437.8 414.0,436.9 414.5,436.0 415.0,435.2 415.5,435.7 416.0,436.9 416.5,438.0 417.0,439.1 417.5,440.3 418.0,441.1 418.5,438.2 419.0,435.3 419.5,432.3 420.0,427.0 420.5,423.1 421.0,421.3 421.5,421.1 422.0,420.8 422.5,420.7 423.0,421.0 423.5,422.0 424.0,424.0 424.5,426.1 425.0,428.5 425.5,429.1 426.0,426.7 426.5,421.5 427.0,415.7 427.5,410.5 428.0,406.2 428.5,402.6 429.0,399.5 429.5,396.8 430.0,394.9 430.5,393.6 431.0,392.9 431.5,392.6 432.0,392.7 432.5,393.3 433.0,394.3 433.5,395.9 434.0,398.2 434.5,401.3 435.0,405.0 435.5,409.7 436.0,415.5 436.5,422.7 437.0,430.6 437.5,436.0 438.0,437.2 438.5,438.5 439.0,439.8 439.5,441.1 440.0,442.4 440.5,443.7 441.0,444.6 441.5,444.0 442.0,443.4 442.5,442.8 443.0,442.2 443.5,441.6 444.0,441.0 444.5,441.1 445.0,441.2 445.5,441.3 446.0,441.4 446.5,441.5 447.0,441.5 447.5,441.3 448.0,440.8 448.5,440.3 449.0,439.8 449.5,439.3 450.0,438.8 450.5,438.6 451.0,439.6 451.5,440.5 452.0,441.5 452.5,442.4 453.0,443.4 453.5,444.3 454.0,443.7 454.5,443.1 455.0,442.5 455.5,441.9 456.0,441.3 456.5,440.7 457.0,440.8 457.5,441.0 458.0,441.2 458.5,441.5 459.0,441.7 459.5,441.9 460.0,442.0 460.5,441.5 461.0,441.0 461.5,440.6 462.0,440.1 462.5,439.9 463.0,440.5 463.5,441.2 464.0,441.8 464.5,442.5 465.0,443.2 465.5,443.6 466.0,443.4 466.5,443.2 467.0,443.1 467.5,442.9 468.0,442.7 468.5,442.6 469.0,442.9 469.5,443.2 470.0,443.5 470.5,443.6 471.0,443.5 471.5,443.3 472.0,443.1 472.5,443.0 473.0,443.1 473.5,443.3 474.0,443.5 474.5,443.6 475.0,443.8 475.5,443.9 476.0,444.0 476.5,444.1 477.0,444.2 477.5,444.3 478.0,444.3 478.5,444.4 479.0,444.5 479.5,444.7 480.0,444.8 480.5,445.0 481.0,445.1 481.5,445.1 482.0,445.0 482.5,444.9 483.0,444.9 483.5,444.8 484.0,444.7 484.5,444.6 485.0,444.7 485.5,444.7 486.0,444.8 486.5,444.9 487.0,444.9 487.5,444.9 488.0,444.8 488.5,444.8 489.0,444.7 489.5,444.8 490.0,445.0 490.5,445.2 491.0,445.4 491.5,445.5 492.0,445.5 492.5,445.4 493.0,445.4 493.5,445.4 494.0,445.6 494.5,445.7 495.0,445.8 495.5,445.9 496.0,446.0 496.5,446.0 497.0,445.9 497.5,445.8 498.0,445.7 498.5,445.7 499.0,445.6 499.5,445.5 500.0,445.7 500.5,445.8 501.0,446.0 501.5,446.1 502.0,446.2 502.5,446.1 503.0,446.1 503.5,446.1 504.0,446.1 504.5,446.1 505.0,446.2 505.5,446.4 506.0,446.6 506.5,446.8 507.0,447.0 507.5,447.2 508.0,447.3 508.5,447.2 509.0,447.1 509.5,447.1 510.0,447.0 510.5,447.0 511.0,447.0 511.5,447.1 512.0,447.2 512.5,447.2 513.0,447.3 513.5,447.3 514.0,447.2 514.5,447.1 515.0,447.0 515.5,446.9 516.0,447.0 516.5,447.2 517.0,447.5 517.5,447.7 518.0,447.7 518.5,447.7 519.0,447.7 519.5,447.6 520.0,447.6 520.5,447.5 521.0,447.6 521.5,447.6 522.0,447.7 522.5,447.8 523.0,447.8 523.5,447.7 524.0,447.6 524.5,447.4 525.0,447.3 525.5,447.2 526.0,447.3 526.5,447.4 527.0,447.5 527.5,447.6 528.0,447.7 528.5,447.8 529.0,447.9 529.5,447.9 530.0,447.9 530.5,448.0 531.0,448.0 531.5,448.0 532.0,448.1 532.5,448.3 533.0,448.5 533.5,448.7 534.0,449.0 534.5,449.0 535.0,448.9 535.5,448.9 536.0,448.8 536.5,448.8 537.0,448.8 537.5,448.9 538.0,449.0 538.5,449.1 539.0,449.1 539.5,449.2 540.0,449.1 540.5,449.0 541.0,449.0 541.5,448.9 542.0,448.8 542.5,449.0 543.0,449.1 543.5,449.3 544.0,449.4 544.5,449.6 545.0,449.8 545.5,449.9 546.0,449.9 546.5,449.9 547.0,449.9 547.5,449.9 548.0,449.9 548.5,449.9 549.0,450.0 549.5,450.0 550.0,450.0 550.5,450.0 551.0,450.1 551.5,450.1 552.0,449.9 552.5,449.8 553.0,449.6 553.5,449.6 554.0,449.8 554.5,449.9 555.0,450.1 555.5,450.2 556.0,450.2 556.5,450.2 557.0,450.2 557.5,450.3 558.0,450.3 558.5,450.3 559.0,450.3 559.5,450.4 560.0,450.4 560.5,450.5" stroke="#4777ae"/>
</g></svg><!--/CHART-->
<div class="a serif" style="left:281px;top:491px;font-size:19px;letter-spacing:0.5px;font-weight:bold;color:#000;">Frequency (GHz)</div>

<div class="a" style="left:43px;top:510.5px;font-family:'Liberation Mono',monospace;font-size:14px;font-weight:bold;color:#777;-webkit-text-stroke:0.5px #777;transform:scaleX(0.71);transform-origin:0 0;">11/5/2020</div>
<div class="a" style="left:665px;top:509.5px;font-family:'Liberation Mono',monospace;font-size:14px;font-weight:bold;color:#777;-webkit-text-stroke:0.5px #777;transform:scaleX(0.71);transform-origin:0 0;">13</div>
</body></html>
